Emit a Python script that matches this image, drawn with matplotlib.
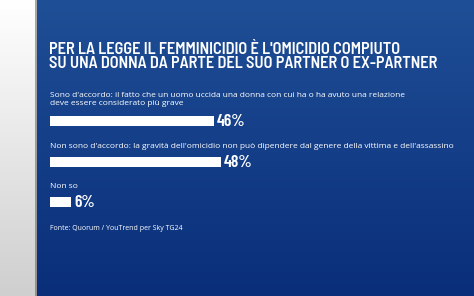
import numpy as np
import matplotlib
matplotlib.use('Agg')
import matplotlib.pyplot as plt
from matplotlib.colors import LinearSegmentedColormap

# dati del sondaggio
title_lines = ["PER LA LEGGE IL FEMMINICIDIO È L'OMICIDIO COMPIUTO",
               "SU UNA DONNA DA PARTE DEL SUO PARTNER O EX-PARTNER"]
answers = ["Sono d'accordo: il fatto che un uomo uccida una donna con cui ha o ha avuto una relazione\ndeve essere considerato più grave",
           "Non sono d'accordo: la gravità dell'omicidio non può dipendere dal genere della vittima e dell'assassino",
           "Non so"]
values = [46, 48, 6]
source = "Fonte: Quorum / YouTrend per Sky TG24"

W, H = 474, 296
fig = plt.figure(figsize=(W / 100, H / 100), dpi=100)

# sfondo: pannello grigio a sinistra e gradiente blu
bg = fig.add_axes([0, 0, 1, 1])
bg.set_xlim(0, W)
bg.set_ylim(H, 0)
bg.axis('off')
gray = LinearSegmentedColormap.from_list('g', ['#ffffff', '#cfcfcf'])
bg.imshow(np.linspace(0, 1, 100).reshape(-1, 1), cmap=gray, aspect='auto',
          extent=(0, 37, H, 0), zorder=0)
blue = LinearSegmentedColormap.from_list('b', ['#1f4f96', '#0a2e7a'])
bg.imshow(np.linspace(0, 1, 100).reshape(-1, 1), cmap=blue, aspect='auto',
          extent=(37, W, H, 0), zorder=1)
bg.axvline(36, color='#555555', lw=1.2, alpha=0.6, zorder=2)

title_font = ['Barlow Semi Condensed', 'Barlow Condensed', 'DejaVu Sans']
cond = ['Barlow Condensed', 'Oswald', 'DejaVu Sans']
body = ['Open Sans', 'DejaVu Sans']

for i, line in enumerate(title_lines):
    bg.text(49.5, 49 + i * 14.5, line, color='white', fontsize=11.8, fontweight=600,
            family=title_font, va='center', ha='left', zorder=3)

# assi delle barre: 0-100 %
ax = fig.add_axes([50 / W, 0, 357 / W, 1])
ax.set_xlim(0, 100)
ax.set_ylim(H, 0)
ax.axis('off')

bar_y = [121, 162, 202]
text_y = [99.5, 147, 187]
ax.barh(bar_y, values, height=10, color='white', zorder=3)
for v, by, ty, a in zip(values, bar_y, text_y, answers):
    ax.text(0, ty, a, color='white', fontsize=6.05, family=body,
            va='center', ha='left', linespacing=1.15)
    ax.text(v + 0.8, by + 0.5, f"{v}%", color='white', fontsize=12.5, fontweight=600,
            family=cond, va='center', ha='left')

ax.text(0, 229, source, color='white', fontsize=5.05, family=body, va='center', ha='left')

fig.savefig('out.png', dpi=100)
